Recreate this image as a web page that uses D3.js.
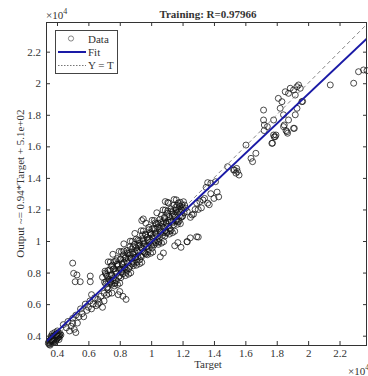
<!DOCTYPE html>
<html>
<head>
<meta charset="utf-8">
<script src="https://cdn.jsdelivr.net/npm/d3@7"></script>
<style>
  body { margin: 0; background: #fff; }
  svg text { font-family: "Liberation Serif", "Times New Roman", serif; fill: #333; }
</style>
</head>
<body>
<svg id="chart"></svg>
<script>
// values are in units of 10^4 (as on the axes)
const title = "Training: R=0.97966";
const yLabel = "Output ~= 0.94*Target + 5.1e+02";
const xLabel = "Target";
const fitSlope = 0.94;
const fitIntercept = 0.051; // 5.1e+02
const xTicks = [0.4, 0.6, 0.8, 1, 1.2, 1.4, 1.6, 1.8, 2, 2.2];
const yTicks = [0.4, 0.6, 0.8, 1, 1.2, 1.4, 1.6, 1.8, 2, 2.2];
const xDomain = [0.33, 2.375];
const yDomain = [0.341, 2.388];

// [target, output]
const clusterLow = [
  [0.345,0.352],[0.350,0.345],[0.352,0.368],[0.355,0.358],[0.358,0.372],[0.360,0.350],[0.362,0.381],[0.365,0.366],[0.367,0.392],[0.370,0.375],
  [0.372,0.360],[0.375,0.388],[0.377,0.399],[0.380,0.371],[0.382,0.395],[0.385,0.382],[0.388,0.405],[0.390,0.364],[0.393,0.391],[0.395,0.410],
  [0.398,0.378],[0.400,0.398],[0.403,0.415],[0.405,0.386],[0.408,0.402],[0.410,0.420],[0.413,0.376],[0.415,0.408],[0.418,0.395],[0.420,0.412],
  [0.348,0.362],[0.356,0.340],[0.363,0.398],[0.371,0.412],[0.379,0.356],[0.386,0.420],[0.394,0.372],[0.402,0.430],[0.411,0.390],[0.425,0.405]
];
const clusterMid = [
  [0.44,0.47],[0.46,0.45],[0.47,0.49],[0.48,0.43],[0.49,0.46],[0.50,0.51],[0.51,0.44],[0.52,0.53],[0.53,0.48],[0.54,0.52],
  [0.55,0.57],[0.56,0.54],[0.57,0.52],[0.58,0.60],[0.59,0.56],[0.60,0.58],[0.61,0.62],[0.62,0.57],[0.63,0.60],[0.64,0.64],
  [0.65,0.59],[0.66,0.63],[0.67,0.61],[0.68,0.65],[0.69,0.58],[0.70,0.62],[0.52,0.42],[0.50,0.48],[0.62,0.66],[0.66,0.60],
  [0.50,0.86],[0.506,0.795],[0.527,0.785],[0.516,0.742],[0.548,0.742],[0.612,0.778],[0.612,0.742],[0.708,0.797],[0.727,0.742],[0.69,0.77],
  [0.79,0.66],[0.80,0.68],[0.75,0.67],[0.82,0.65],[0.84,0.63]
];
const clusterDense = [
  [0.700,0.669],[0.703,0.739],[0.706,0.809],[0.710,0.728],[0.713,0.788],[0.716,0.658],[0.720,0.778],[0.723,0.708],[0.726,0.868],
  [0.730,0.667],[0.733,0.757],[0.736,0.817],[0.740,0.867],[0.743,0.737],[0.746,0.787],[0.750,0.726],[0.753,0.846],[0.756,0.916],
  [0.760,0.765],[0.763,0.825],[0.766,0.715],[0.770,0.735],[0.773,0.805],[0.776,0.875],[0.780,0.794],[0.783,0.854],[0.786,0.724],
  [0.790,0.844],[0.793,0.774],[0.796,0.934],[0.800,0.733],[0.803,0.823],[0.806,0.883],[0.810,0.932],[0.813,0.802],[0.816,0.852],
  [0.820,0.792],[0.823,0.912],[0.826,0.982],[0.830,0.831],[0.833,0.891],[0.836,0.781],[0.840,0.801],[0.843,0.871],[0.846,0.941],
  [0.850,0.860],[0.853,0.920],[0.856,0.790],[0.860,0.909],[0.863,0.839],[0.866,0.999],[0.870,0.799],[0.873,0.889],[0.876,0.949],
  [0.880,0.998],[0.883,0.868],[0.886,0.918],[0.890,0.858],[0.893,0.978],[0.896,1.048],[0.900,0.897],[0.903,0.957],[0.906,0.847],
  [0.910,0.866],[0.913,0.936],[0.916,1.006],[0.920,0.926],[0.923,0.986],[0.926,0.856],[0.930,0.975],[0.933,0.905],[0.936,1.065],
  [0.940,0.865],[0.943,0.955],[0.946,1.015],[0.950,1.064],[0.953,0.934],[0.956,0.984],[0.960,0.923],[0.963,1.043],[0.966,1.113],
  [0.970,0.963],[0.973,1.023],[0.976,0.913],[0.980,0.932],[0.983,1.002],[0.986,1.072],[0.990,0.992],[0.993,1.052],[0.996,0.922],
  [1.000,1.041],[1.003,0.971],[1.006,1.131],[1.010,0.930],[1.013,1.020],[1.016,1.080],[1.020,1.130],[1.023,1.000],[1.026,1.050],
  [1.030,0.989],[1.033,1.109],[1.036,1.179],[1.040,1.029],[1.043,1.089],[1.046,0.979],[1.050,0.998],[1.053,1.068],[1.056,1.138],
  [1.060,1.057],[1.063,1.117],[1.066,0.987],[1.070,1.107],[1.073,1.037],[1.076,1.197],[1.080,0.996],[1.083,1.086],[1.086,1.146],
  [1.090,1.196],[1.093,1.066],[1.096,1.116],[1.100,1.055],[1.103,1.175],[1.106,1.245],[1.110,1.094],[1.113,1.154],[1.116,1.044],
  [1.120,1.064],[1.123,1.134],[1.126,1.204],[1.130,1.123],[1.133,1.183],[1.136,1.053],[1.140,1.173],[1.143,1.103],[1.146,1.263],
  [1.150,1.062],[1.153,1.152],[1.156,1.212],[1.160,1.261],[1.163,1.131],[1.166,1.181],[1.170,1.121],[1.173,1.241],[1.176,1.201],
  [1.180,1.160],[1.183,1.220],[1.186,1.110],[1.190,1.150],[1.193,1.200],[1.196,1.230],[1.200,1.159],[1.203,1.209],[1.206,1.249],
  [1.210,1.178],[1.213,1.228],[1.220,1.208],
  [0.715,0.743],[0.718,0.703],[0.735,0.782],[0.738,0.742],[0.755,0.751],[0.758,0.821],[0.775,0.810],[0.778,0.750],
  [0.795,0.818],[0.798,0.778],[0.815,0.857],[0.818,0.817],[0.835,0.826],[0.838,0.896],[0.855,0.885],[0.858,0.825],
  [0.875,0.894],[0.878,0.854],[0.895,0.932],[0.898,0.892],[0.915,0.901],[0.918,0.971],[0.935,0.960],[0.938,0.900],
  [0.955,0.969],[0.958,0.929],[0.975,1.008],[0.978,0.968],[0.995,0.976],[0.998,1.046],[1.015,1.035],[1.018,0.975],
  [1.035,1.044],[1.038,1.004],[1.055,1.083],[1.058,1.043],[1.075,1.052],[1.078,1.122],[1.095,1.110],[1.098,1.050],
  [1.115,1.119],[1.118,1.079],[1.135,1.158],[1.138,1.118],[1.155,1.127],[1.158,1.197],[1.175,1.186],[1.178,1.126],
  [1.195,1.194],[1.198,1.154],
  [0.725,0.813],[0.727,0.693],[0.745,0.841],[0.747,0.781],[0.765,0.870],[0.767,0.730],[0.785,0.889],[0.787,0.849],
  [0.805,0.888],[0.807,0.768],[0.825,0.937],[0.827,0.867],[0.845,0.925],[0.847,0.815],[0.865,0.964],[0.867,0.924],
  [0.885,0.963],[0.887,0.843],[0.905,1.012],[0.907,0.942],[0.925,1.001],[0.927,0.881],[0.945,1.039],[0.947,0.999],
  [0.965,1.038],[0.967,0.918],[0.985,1.087],[0.987,1.017],[1.005,1.076],[1.007,0.956],[1.025,1.115],[1.027,1.075],
  [1.045,1.113],[1.047,0.993],[1.065,1.162],[1.067,1.092],[1.085,1.151],[1.087,1.031],[1.105,1.190],[1.107,1.130],
  [1.125,1.189],[1.127,1.069],[1.145,1.227],[1.147,1.167],[1.165,1.226],[1.167,1.106],[1.185,1.245],[1.187,1.185],
  [1.09,1.25],[1.11,1.24],[0.94,1.13],[0.95,1.14],[1.058,0.90],[1.078,0.924],[1.15,0.97],[1.17,0.99],[1.19,0.96],
  [1.228,0.996],[1.249,1.02],[1.30,1.025],[1.23,0.995],[1.29,1.027]
];
const clusterUpper = [
  [1.23,1.186],[1.26,1.165],[1.29,1.24],[1.30,1.20],[1.34,1.27],[1.36,1.24],[1.37,1.23],[1.35,1.34],[1.38,1.366],[1.41,1.376],
  [1.25,1.15],[1.27,1.17],[1.28,1.20],[1.31,1.25],[1.32,1.21],[1.33,1.26],[1.38,1.30],[1.40,1.27],[1.42,1.31],[1.43,1.28],[1.36,1.37],
  [1.487,1.471],[1.53,1.45],[1.55,1.44],[1.56,1.418],[1.525,1.45],[1.54,1.43],[1.545,1.46],
  [1.604,1.608],[1.636,1.524],[1.646,1.503],[1.667,1.556]
];
const clusterTop = [
  [1.721,1.735],[1.74,1.725],[1.773,1.62],[1.784,1.66],[1.795,1.672],[1.848,1.735],[1.859,1.70],[1.869,1.683],[1.912,1.714],
  [1.716,1.830],[1.716,1.767],[1.78,1.767],[1.81,1.904],[1.833,1.883],[1.822,1.841],[1.854,1.946],[1.875,1.936],[1.886,1.968],
  [1.907,1.957],[1.929,1.978],[1.939,1.989],[1.95,1.968],[1.918,1.925],[1.96,1.883],[1.965,1.885],
  [1.843,1.80],[1.875,1.767],[1.918,1.80],[1.929,1.841],[1.843,1.725],[1.865,1.693],[1.907,1.714],[1.78,1.672],[1.79,1.661],
  [1.769,1.619],[1.72,1.70],
  [2.141,1.989],[2.29,2.0],[2.321,2.073],[2.353,2.084],[2.375,2.08]
];

const width = 368, height = 376;
const margin = { top: 22, right: 1, bottom: 31, left: 46 };
const innerW = width - margin.left - margin.right;
const innerH = height - margin.top - margin.bottom;

const svg = d3.select("#chart").attr("width", width).attr("height", height);

const x = d3.scaleLinear().domain(xDomain).range([margin.left, margin.left + innerW]);
const y = d3.scaleLinear().domain(yDomain).range([margin.top + innerH, margin.top]);
const fmt = d3.format("~g");

svg.append("clipPath").attr("id", "plot-clip")
  .append("rect")
  .attr("x", margin.left).attr("y", margin.top)
  .attr("width", innerW).attr("height", innerH);

// data circles
const allPoints = clusterLow.concat(clusterMid, clusterDense, clusterUpper, clusterTop);
svg.append("g")
  .selectAll("circle")
  .data(allPoints)
  .join("circle")
  .attr("cx", d => x(d[0]))
  .attr("cy", d => y(d[1]))
  .attr("r", 3)
  .attr("fill", "none")
  .attr("stroke", "#111")
  .attr("stroke-width", 0.75);

// Y = T and fit lines
const lines = svg.append("g").attr("clip-path", "url(#plot-clip)");
lines.append("line")
  .attr("x1", x(xDomain[0])).attr("y1", y(xDomain[0]))
  .attr("x2", x(xDomain[1])).attr("y2", y(xDomain[1]))
  .attr("stroke", "#888").attr("stroke-width", 1)
  .attr("stroke-dasharray", "4,3");
lines.append("line")
  .attr("x1", x(xDomain[0])).attr("y1", y(fitSlope * xDomain[0] + fitIntercept))
  .attr("x2", x(xDomain[1])).attr("y2", y(fitSlope * xDomain[1] + fitIntercept))
  .attr("stroke", "#1a1aa6").attr("stroke-width", 2);

// axes, ticks pointing inwards on all four sides
const gx = svg.append("g").attr("transform", `translate(0,${margin.top + innerH})`)
  .call(d3.axisBottom(x).tickValues(xTicks).tickFormat(fmt).tickSizeInner(-4).tickSizeOuter(0).tickPadding(4));
const gy = svg.append("g").attr("transform", `translate(${margin.left},0)`)
  .call(d3.axisLeft(y).tickValues(yTicks).tickFormat(fmt).tickSizeInner(-4).tickSizeOuter(0).tickPadding(5));
const gt = svg.append("g").attr("transform", `translate(0,${margin.top})`)
  .call(d3.axisTop(x).tickValues(xTicks).tickFormat("").tickSizeInner(-4).tickSizeOuter(0));
const gr = svg.append("g").attr("transform", `translate(${margin.left + innerW},0)`)
  .call(d3.axisRight(y).tickValues(yTicks).tickFormat("").tickSizeInner(-4).tickSizeOuter(0));
[gx, gy, gt, gr].forEach(g => {
  g.select(".domain").remove();
  g.selectAll(".tick line").attr("stroke", "#333");
  g.selectAll("text").attr("font-size", 11).attr("fill", "#333")
    .attr("font-family", "Liberation Serif, Times New Roman, serif");
});

svg.append("rect")
  .attr("x", margin.left + 0.5).attr("y", margin.top + 0.5)
  .attr("width", innerW - 1).attr("height", innerH)
  .attr("fill", "none").attr("stroke", "#333").attr("stroke-width", 1);

// title and labels
svg.append("text")
  .attr("x", 208).attr("y", 18)
  .attr("text-anchor", "middle")
  .attr("font-size", 11).attr("font-weight", "bold").attr("fill", "#111")
  .text(title);

svg.append("text")
  .attr("transform", `translate(24,${margin.top + innerH / 2}) rotate(-90)`)
  .attr("text-anchor", "middle")
  .attr("font-size", 11)
  .text(yLabel);

svg.append("text")
  .attr("x", 208).attr("y", 368)
  .attr("text-anchor", "middle")
  .attr("font-size", 11)
  .text(xLabel);

// x10^4 exponent labels
function expLabel(px, py) {
  const t = svg.append("text").attr("x", px).attr("y", py).attr("font-size", 11).attr("fill", "#555");
  t.append("tspan").text("\u00d710");
  t.append("tspan").attr("dy", -5).attr("font-size", 8).text("4");
}
expLabel(46, 19);
expLabel(348, 375);

// legend
const lg = svg.append("g");
lg.append("rect")
  .attr("x", 55.5).attr("y", 30.5).attr("width", 62).attr("height", 43)
  .attr("fill", "#fff").attr("stroke", "#444").attr("stroke-width", 1);
lg.append("circle").attr("cx", 71).attr("cy", 38.5).attr("r", 2.6)
  .attr("fill", "none").attr("stroke", "#555").attr("stroke-width", 0.7);
lg.append("line").attr("x1", 58).attr("x2", 86).attr("y1", 52).attr("y2", 52)
  .attr("stroke", "#1a1aa6").attr("stroke-width", 2);
lg.append("line").attr("x1", 58).attr("x2", 86).attr("y1", 65.5).attr("y2", 65.5)
  .attr("stroke", "#777").attr("stroke-width", 1).attr("stroke-dasharray", "1.5,1.5");
const legendLabels = ["Data", "Fit", "Y = T"];
lg.selectAll("text.lab")
  .data(legendLabels)
  .join("text")
  .attr("class", "lab")
  .attr("x", 88)
  .attr("y", (d, i) => 43 + i * 13)
  .attr("font-size", 11)
  .text(d => d);
</script>
</body>
</html>
